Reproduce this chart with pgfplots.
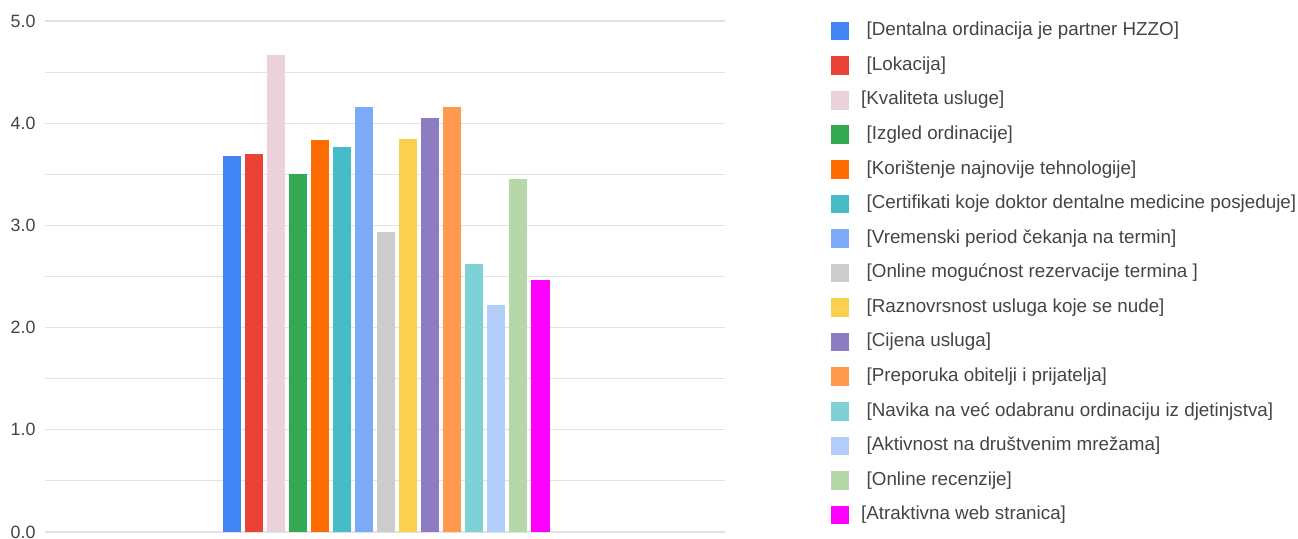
\documentclass[border=0pt]{standalone}
\usepackage{fontspec}
\setmainfont{Liberation Sans}
\usepackage{pgfplots}
\pgfplotsset{compat=1.18}

\definecolor{c1}{HTML}{4285F4}
\definecolor{c2}{HTML}{EA4335}
\definecolor{c3}{HTML}{EAD1DC}
\definecolor{c4}{HTML}{34A853}
\definecolor{c5}{HTML}{FF6D01}
\definecolor{c6}{HTML}{46BDC6}
\definecolor{c7}{HTML}{7BAAF7}
\definecolor{c8}{HTML}{CCCCCC}
\definecolor{c9}{HTML}{FCD04F}
\definecolor{c10}{HTML}{8E7CC3}
\definecolor{c11}{HTML}{FF994D}
\definecolor{c12}{HTML}{7ED1D7}
\definecolor{c13}{HTML}{B3CEFB}
\definecolor{c14}{HTML}{B6D7A8}
\definecolor{c15}{HTML}{FF00FF}
\definecolor{txt}{HTML}{444444}
\definecolor{gridc}{HTML}{E2E2E2}

\newcommand{\lsp}{\hspace*{5.5pt}}

\begin{document}
\begin{tikzpicture}
\begin{axis}[
  at={(45pt,6pt)}, anchor=south west, scale only axis,
  width=680pt, height=511pt,
  xmin=-7.5, xmax=23.4, ymin=0, ymax=5,
  axis line style={draw=none},
  xtick=\empty,
  ytick={0,1,...,5},
  minor ytick={0.5,1.5,...,4.5},
  ymajorgrids, yminorgrids,
  major grid style={gridc, line width=1.1pt},
  minor grid style={gridc, line width=1.1pt},
  major tick length=0pt, minor tick length=0pt,
  extra y ticks={0}, extra y tick labels={},
  extra y tick style={grid style={draw=black!65, line width=1.3pt}},
  yticklabel style={/pgf/number format/fixed, /pgf/number format/fixed zerofill,
    /pgf/number format/precision=1, xshift=-6pt},
  /pgf/number format/assume math mode=true,
  tick label style={font=\fontsize{17.8}{20}\selectfont, text=txt},
  clip=false,
  legend cell align=left,
  legend style={
    at={(axis description cs:1.1554,0.9987)}, anchor=north west,
    draw=none, fill=none, inner sep=0pt, outer sep=0pt,
    row sep=15.87pt, column sep=11.8pt,
    font=\fontsize{18.8}{21}\selectfont, text=txt,
    nodes={inner sep=0pt, text height=13.6pt, text depth=4pt},
  },
  legend image code/.code={\fill[#1] (0pt,-9.35pt) rectangle (18.7pt,9.35pt);},
  every axis plot/.append style={ybar, bar width=0.85, bar shift=0pt, draw=none},
]
\addplot[fill=c1] coordinates {(1,3.68)};
\addlegendentry{\lsp[Dentalna ordinacija je partner HZZO]}
\addplot[fill=c2] coordinates {(2,3.70)};
\addlegendentry{\lsp[Lokacija]}
\addplot[fill=c3] coordinates {(3,4.67)};
\addlegendentry{[Kvaliteta usluge]}
\addplot[fill=c4] coordinates {(4,3.50)};
\addlegendentry{\lsp[Izgled ordinacije]}
\addplot[fill=c5] coordinates {(5,3.84)};
\addlegendentry{\lsp[Korištenje najnovije tehnologije]}
\addplot[fill=c6] coordinates {(6,3.77)};
\addlegendentry{\lsp[Certifikati koje doktor dentalne medicine posjeduje]}
\addplot[fill=c7] coordinates {(7,4.16)};
\addlegendentry{\lsp[Vremenski period čekanja na termin]}
\addplot[fill=c8] coordinates {(8,2.94)};
\addlegendentry{\lsp[Online mogućnost rezervacije termina ]}
\addplot[fill=c9] coordinates {(9,3.85)};
\addlegendentry{\lsp[Raznovrsnost usluga koje se nude]}
\addplot[fill=c10] coordinates {(10,4.05)};
\addlegendentry{\lsp[Cijena usluga]}
\addplot[fill=c11] coordinates {(11,4.16)};
\addlegendentry{\lsp[Preporuka obitelji i prijatelja]}
\addplot[fill=c12] coordinates {(12,2.62)};
\addlegendentry{\lsp[Navika na već odabranu ordinaciju iz djetinjstva]}
\addplot[fill=c13] coordinates {(13,2.22)};
\addlegendentry{\lsp[Aktivnost na društvenim mrežama]}
\addplot[fill=c14] coordinates {(14,3.45)};
\addlegendentry{\lsp[Online recenzije]}
\addplot[fill=c15] coordinates {(15,2.47)};
\addlegendentry{[Atraktivna web stranica]}
\end{axis}
\pgfresetboundingbox
\path[use as bounding box] (0,0) rectangle (1298pt,538pt);
\end{tikzpicture}
\end{document}
